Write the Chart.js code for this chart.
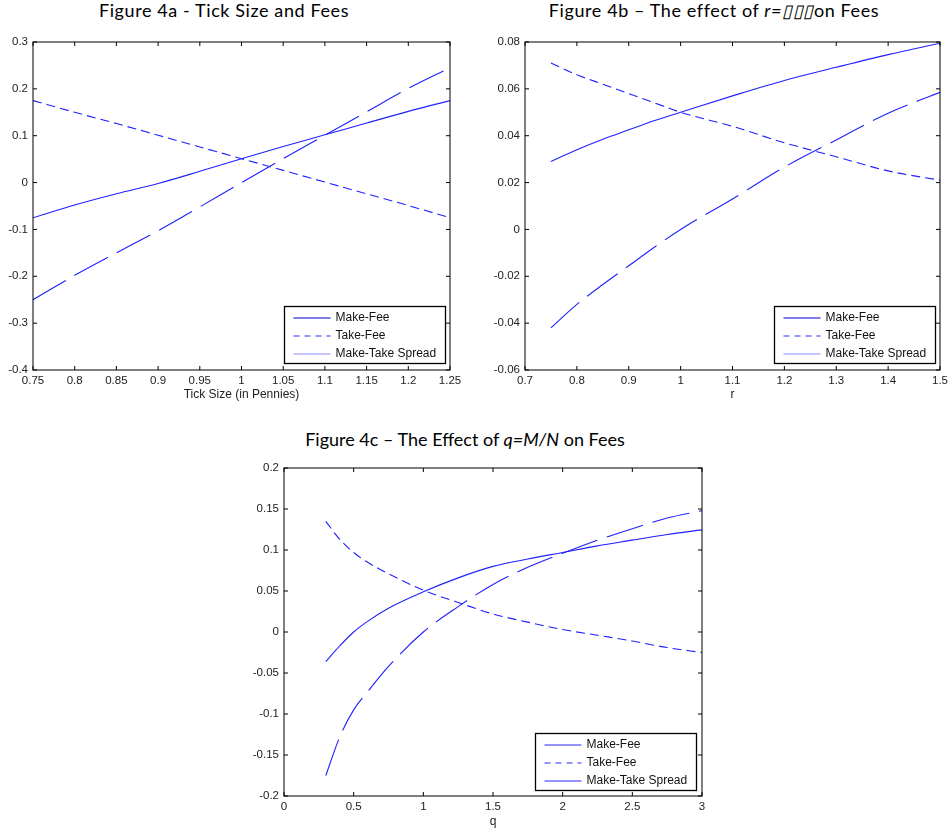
<!DOCTYPE html>
<html>
<head>
<meta charset="utf-8">
<script src="https://cdn.jsdelivr.net/npm/chart.js@4.4.1/dist/chart.umd.min.js"></script>
<style>
  body { margin: 0; background: #fff; width: 952px; height: 834px; position: relative; overflow: hidden; }
  .box { position: absolute; }
  .title { position: absolute; width: 440px; text-align: center; font-family: Lato, "Open Sans", sans-serif; font-weight: 400; font-size: 18px; letter-spacing: 0.6px; line-height: 22px; color: #000; white-space: nowrap; }
</style>
</head>
<body>
<div class="title" style="left:4px; top:-1px;">Figure 4a - Tick Size and Fees</div>
<div class="title" style="left:494px; top:-1px;">Figure 4b – The effect of <i>r=▯▯▯</i>on Fees</div>
<div class="title" style="left:245px; top:428px; letter-spacing:0px;">Figure 4c – The Effect of <i>q=M/N</i> on Fees</div>
<div class="box" style="left:0px; top:30px;"><canvas id="chartA" width="470" height="380"></canvas></div>
<div class="box" style="left:480px; top:30px;"><canvas id="chartB" width="472" height="380"></canvas></div>
<div class="box" style="left:240px; top:455px;"><canvas id="chartC" width="480" height="379"></canvas></div>
<script>
// Figure 4a - tick size
const tickSize = [0.75, 0.8, 0.85, 0.9, 0.95, 1.0, 1.05, 1.1, 1.15, 1.2, 1.25];
const makeFeeA = [-0.075, -0.048, -0.024, -0.002, 0.024, 0.051, 0.077, 0.102, 0.127, 0.152, 0.175];
const takeFeeA = [0.175, 0.150, 0.126, 0.101, 0.076, 0.051, 0.026, 0.001, -0.024, -0.049, -0.075];
const spreadA = [-0.250, -0.198, -0.150, -0.103, -0.052, 0.000, 0.051, 0.101, 0.151, 0.201, 0.245];
const xTicksA = [0.75, 0.8, 0.85, 0.9, 0.95, 1, 1.05, 1.1, 1.15, 1.2, 1.25];
const xLabelsA = ["0.75", "0.8", "0.85", "0.9", "0.95", "1", "1.05", "1.1", "1.15", "1.2", "1.25"];
const yTicksA = [-0.4, -0.3, -0.2, -0.1, 0, 0.1, 0.2, 0.3];
const yLabelsA = ["-0.4", "-0.3", "-0.2", "-0.1", "0", "0.1", "0.2", "0.3"];

// Figure 4b - r
const rValues = [0.75, 0.8, 0.85, 0.9, 0.95, 1.0, 1.1, 1.2, 1.3, 1.4, 1.5];
const makeFeeB = [0.029, 0.034, 0.0385, 0.0425, 0.0465, 0.050, 0.057, 0.0636, 0.0692, 0.0746, 0.0795];
const takeFeeB = [0.071, 0.066, 0.062, 0.058, 0.054, 0.050, 0.044, 0.037, 0.031, 0.025, 0.021];
const spreadB = [-0.042, -0.032, -0.0235, -0.0155, -0.0075, 0.000, 0.013, 0.0266, 0.0382, 0.0496, 0.0585];
const xTicksB = [0.7, 0.8, 0.9, 1, 1.1, 1.2, 1.3, 1.4, 1.5];
const xLabelsB = ["0.7", "0.8", "0.9", "1", "1.1", "1.2", "1.3", "1.4", "1.5"];
const yTicksB = [-0.06, -0.04, -0.02, 0, 0.02, 0.04, 0.06, 0.08];
const yLabelsB = ["-0.06", "-0.04", "-0.02", "0", "0.02", "0.04", "0.06", "0.08"];

// Figure 4c - q = M/N
const qValues = [0.3, 0.4, 0.5, 0.6, 0.75, 1.0, 1.25, 1.5, 1.75, 2.0, 2.25, 2.5, 2.75, 3.0];
const makeFeeC = [-0.036, -0.017, 0.0, 0.013, 0.029, 0.049, 0.066, 0.080, 0.089, 0.097, 0.105, 0.112, 0.119, 0.1245];
const takeFeeC = [0.135, 0.113, 0.097, 0.085, 0.071, 0.051, 0.036, 0.022, 0.012, 0.003, -0.004, -0.011, -0.019, -0.025];
const spreadC = [-0.175, -0.128, -0.095, -0.073, -0.042, 0.0, 0.031, 0.058, 0.079, 0.096, 0.112, 0.126, 0.139, 0.148];
const xTicksC = [0, 0.5, 1, 1.5, 2, 2.5, 3];
const xLabelsC = ["0", "0.5", "1", "1.5", "2", "2.5", "3"];
const yTicksC = [-0.2, -0.15, -0.1, -0.05, 0, 0.05, 0.1, 0.15, 0.2];
const yLabelsC = ["-0.2", "-0.15", "-0.1", "-0.05", "0", "0.05", "0.1", "0.15", "0.2"];

const seriesNames = ["Make-Fee", "Take-Fee", "Make-Take Spread"];
const lineBlue = "#2020ff";
const tickFont = { family: "'Liberation Sans', Arial, sans-serif", size: 11.5 };
const labelFont = { family: "'Liberation Sans', Arial, sans-serif", size: 12 };

function points(xs, ys) {
  return xs.map((x, i) => ({ x, y: ys[i] }));
}

// box, inward ticks and legend drawn the MATLAB way
const matlabAxes = {
  id: "matlabAxes",
  afterDraw(chart) {
    const { ctx, chartArea: a, scales } = chart;
    const lg = chart.options.plugins.matlabAxes;
    ctx.save();
    ctx.strokeStyle = "#000";
    ctx.lineWidth = 1;
    ctx.strokeRect(a.left, a.top, a.right - a.left, a.bottom - a.top);
    ctx.beginPath();
    scales.x.ticks.forEach((t) => {
      const px = scales.x.getPixelForValue(t.value);
      ctx.moveTo(px, a.bottom); ctx.lineTo(px, a.bottom - 4);
      ctx.moveTo(px, a.top); ctx.lineTo(px, a.top + 4);
    });
    scales.y.ticks.forEach((t) => {
      const py = scales.y.getPixelForValue(t.value);
      ctx.moveTo(a.left, py); ctx.lineTo(a.left + 4, py);
      ctx.moveTo(a.right, py); ctx.lineTo(a.right - 4, py);
    });
    ctx.stroke();

    // legend box
    const w = 161, h = 57;
    const bx = Math.round(a.right - lg.right - w) + 0.5;
    const by = Math.round(a.bottom - lg.bottom - h) + 0.5;
    ctx.fillStyle = "#fff";
    ctx.fillRect(bx, by, w, h);
    ctx.lineWidth = 1.3;
    ctx.strokeRect(bx, by, w, h);
    ctx.font = "12px 'Liberation Sans', Arial, sans-serif";
    ctx.textBaseline = "middle";
    chart.data.datasets.forEach((ds, i) => {
      const y = by + 11.5 + i * 18;
      ctx.strokeStyle = ds.legendColor;
      ctx.lineWidth = 1.2;
      ctx.setLineDash(ds.legendDash);
      ctx.beginPath();
      ctx.moveTo(bx + 9, y); ctx.lineTo(bx + 46, y);
      ctx.stroke();
      ctx.setLineDash([]);
      ctx.fillStyle = "#111";
      ctx.fillText(ds.label, bx + 51, y);
    });
    ctx.restore();
  },
};

function makeChart(id, cfg) {
  const datasets = [
    { label: seriesNames[0], data: points(cfg.x, cfg.make), borderDash: [], legendDash: [], legendColor: cfg.legendColors[0] },
    { label: seriesNames[1], data: points(cfg.x, cfg.take), borderDash: [9, 5], legendDash: [6, 5], legendColor: cfg.legendColors[1] },
    { label: seriesNames[2], data: points(cfg.x, cfg.spread), borderDash: [38, 10], legendDash: [], legendColor: cfg.legendColors[2] },
  ].map((d) => Object.assign(d, {
    borderColor: lineBlue, borderWidth: 1.1, pointRadius: 0, fill: false,
    cubicInterpolationMode: "monotone",
  }));

  return new Chart(document.getElementById(id), {
    type: "line",
    data: { datasets },
    options: {
      responsive: false,
      animation: false,
      devicePixelRatio: 1,
      layout: { padding: { left: 0, right: cfg.padRight, top: cfg.padTop, bottom: 0 } },
      plugins: {
        legend: { display: false },
        tooltip: { enabled: false },
        matlabAxes: cfg.legendPos,
      },
      scales: {
        x: {
          type: "linear",
          min: cfg.xTicks[0],
          max: cfg.xTicks[cfg.xTicks.length - 1],
          grid: { display: false, drawTicks: false },
          border: { display: false },
          afterBuildTicks: (s) => { s.ticks = cfg.xTicks.map((v) => ({ value: v })); },
          afterFit: (s) => { s.height = cfg.xHeight; },
          ticks: {
            autoSkip: false, maxRotation: 0, padding: 4, color: "#222", font: tickFont,
            callback: (v, i) => cfg.xLabels[i],
          },
          title: { display: true, text: cfg.xTitle, color: "#222", font: labelFont, padding: { top: 0, bottom: cfg.titlePad } },
        },
        y: {
          type: "linear",
          min: cfg.yTicks[0],
          max: cfg.yTicks[cfg.yTicks.length - 1],
          grid: { display: false, drawTicks: false },
          border: { display: false },
          afterBuildTicks: (s) => { s.ticks = cfg.yTicks.map((v) => ({ value: v })); },
          afterFit: (s) => { s.width = cfg.yWidth; },
          ticks: {
            autoSkip: false, padding: 5, color: "#222", font: tickFont,
            callback: (v, i) => cfg.yLabels[i],
          },
        },
      },
    },
    plugins: [matlabAxes],
  });
}

makeChart("chartA", {
  x: tickSize, make: makeFeeA, take: takeFeeA, spread: spreadA,
  xTicks: xTicksA, xLabels: xLabelsA, yTicks: yTicksA, yLabels: yLabelsA,
  xTitle: "Tick Size (in Pennies)",
  legendColors: ["#0000d8", "#2a2aff", "#8c8cff"],
  legendPos: { right: 5, bottom: 7 },
  padRight: 20, padTop: 12, yWidth: 33, xHeight: 40, titlePad: 8,
});

makeChart("chartB", {
  x: rValues, make: makeFeeB, take: takeFeeB, spread: spreadB,
  xTicks: xTicksB, xLabels: xLabelsB, yTicks: yTicksB, yLabels: yLabelsB,
  xTitle: "r",
  legendColors: ["#0000d8", "#2a2aff", "#8c8cff"],
  legendPos: { right: 5, bottom: 7 },
  padRight: 11, padTop: 12, yWidth: 45, xHeight: 40, titlePad: 8,
});

makeChart("chartC", {
  x: qValues, make: makeFeeC, take: takeFeeC, spread: spreadC,
  xTicks: xTicksC, xLabels: xLabelsC, yTicks: yTicksC, yLabels: yLabelsC,
  xTitle: "q",
  legendColors: ["#2a2aff", "#2a2aff", "#2a2aff"],
  legendPos: { right: 6, bottom: 6 },
  padRight: 18, padTop: 13, yWidth: 44, xHeight: 38, titlePad: 5,
});
</script>
</body>
</html>
